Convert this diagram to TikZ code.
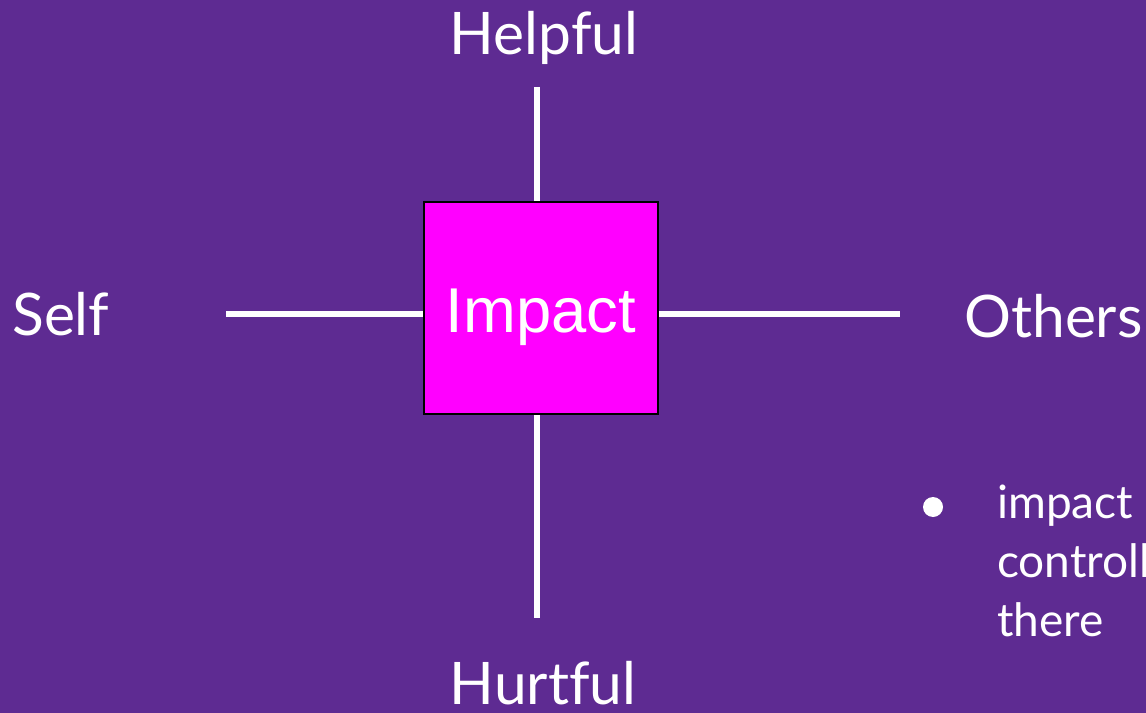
\documentclass[tikz,border=0pt]{standalone}
\usepackage{fontspec}
\setmainfont{Lato}[Ligatures=NoCommon]
\newfontfamily\arialfont{Liberation Sans}
\usepackage{tikz}
\usetikzlibrary{positioning}
\definecolor{slidebg}{HTML}{5E2B92}
\definecolor{impactfill}{HTML}{FF00FF}
\tikzset{
  axis/.style={draw=white,line width=5pt},
  lbl/.style={text=white,inner sep=0pt,font=\fontsize{44}{50}\selectfont},
  centrebox/.style={draw=black,line width=1.2pt,fill=impactfill,minimum width=175.5pt,minimum height=159pt,inner sep=0pt},
  boxlbl/.style={text=white,inner sep=0pt,font=\arialfont\fontsize{47.5}{56}\selectfont},
  note/.style={text=white,inner sep=0pt,font=\fontsize{34.5}{44}\selectfont,align=left},
}
\begin{document}
\begin{tikzpicture}[x=0.75pt,y=-0.75pt]
  \fill[slidebg] (0,0) rectangle (1146,713);
  \useasboundingbox (0,0) rectangle (1146,713);
  \node[centrebox] (impact) at (541,308) {};
  \node[boxlbl,anchor=base] (impactlbl) at (541,332) {Impact};
  % axis ends
  \coordinate (top) at (537,87);
  \coordinate (bot) at (537,618);
  \coordinate (lft) at (226,314);
  \coordinate (rgt) at (900,314);
  \draw[axis] (top) -- (impact.north -| top);
  \draw[axis] (impact.south -| bot) -- (bot);
  \draw[axis] (lft) -- (impact.west |- lft);
  \draw[axis] (impact.east |- rgt) -- (rgt);
  % labels
  \node[lbl,anchor=base] (helpful) at (544,55) {Helpful};
  \node[lbl,anchor=base] (hurtful) at (543,704) {Hurtful};
  \node[lbl,anchor=base west] (self) at (12,335) {Self};
  \node[lbl,anchor=base west] (others) at (964,337) {Others};
  % note (base = last line)
  \node[circle,fill=white,inner sep=0pt,minimum size=15pt] (dot) at (933,507) {};
  \node[note,anchor=base west] (txt) at (997,636) {impact\\controll\\there};
\end{tikzpicture}
\end{document}
